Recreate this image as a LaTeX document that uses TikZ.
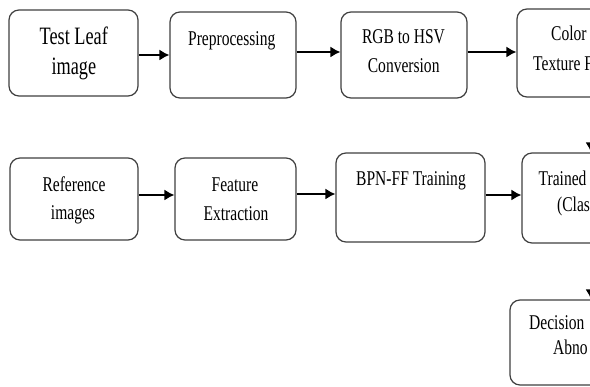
\documentclass[tikz,border=0pt]{standalone}
\usepackage{fontspec}
\setmainfont{Liberation Serif}
\usetikzlibrary{arrows.meta}
\newcommand{\nsz}{\fontsize{21}{30}\selectfont}
\newcommand{\bsz}{\fontsize{25}{33}\selectfont}
\newcommand{\sx}[1]{\scalebox{0.74}[1]{#1}}
\newcommand{\sxb}[1]{\scalebox{0.73}[1]{#1}}
\tikzset{
  box/.style={draw=black!75, line width=1.2pt, rounded corners=10pt, fill=white, inner sep=0pt},
  txt/.style={inner sep=0pt, font=\nsz, text=black},
  btxt/.style={inner sep=0pt, font=\bsz, text=black},
  arr/.style={draw=black, line width=1.5pt, -{Latex[length=10pt,width=11pt]}}
}
\begin{document}
\begin{tikzpicture}[x=1pt,y=-1pt]
\useasboundingbox (0,0) rectangle (590,387);
\fill[white] (0,0) rectangle (590,387);
\clip (0,0) rectangle (590,387);
% boxes
\node[box, minimum width=129pt, minimum height=86pt] (b1) at (73.5,53) {};
\node[box, minimum width=126pt, minimum height=86pt] (b2) at (233,55) {};
\node[box, minimum width=126pt, minimum height=86pt] (b3) at (404,55) {};
\node[box, minimum width=130pt, minimum height=88pt] (b4) at (582,53) {};
\node[box, minimum width=128pt, minimum height=82pt] (b5) at (74,199) {};
\node[box, minimum width=121pt, minimum height=82pt] (b6) at (235.5,199) {};
\node[box, minimum width=149pt, minimum height=89pt] (b7) at (410.5,197.5) {};
\node[box, minimum width=130pt, minimum height=90pt] (b8) at (587,198) {};
\node[box, minimum width=130pt, minimum height=85pt] (b9) at (575,342.5) {};
% texts
\node[btxt, anchor=base] (t1a) at (73.8,45) {\sxb{Test Leaf}};
\node[btxt, anchor=base] (t1b) at (73.8,75) {\sxb{image}};
\node[txt, anchor=base] (t2) at (231.7,46) {\sx{Preprocessing}};
\node[txt, anchor=base] (t3a) at (403.5,43.5) {\sx{RGB to HSV}};
\node[txt, anchor=base] (t3b) at (403.7,73) {\sx{Conversion}};
\node[txt, anchor=base west] (t4a) at (551,41) {\sx{Color}};
\node[txt, anchor=base west] (t4b) at (533,70.5) {\sx{Texture F}};
\node[txt, anchor=base] (t5a) at (74,192) {\sx{Reference}};
\node[txt, anchor=base] (t5b) at (73,220) {\sx{images}};
\node[txt, anchor=base] (t6a) at (235,192) {\sx{Feature}};
\node[txt, anchor=base] (t6b) at (236,221) {\sx{Extraction}};
\node[txt, anchor=base] (t7) at (411,186) {\sx{BPN-FF Training}};
\node[txt, anchor=base west] (t8a) at (538.5,186) {\sx{Trained}};
\node[txt, anchor=base west] (t8b) at (557,212) {\sx{(Clas}};
\node[txt, anchor=base west] (t9a) at (529,330) {\sx{Decision}};
\node[txt, anchor=base west] (t9b) at (553,355) {\sx{Abno}};
% connector guides
\coordinate (r1) at (0,55);
\coordinate (r2) at (0,52);
\coordinate (r4) at (0,195);
\coordinate (r5) at (0,194);
\coordinate (vx) at (591,0);
% arrows
\draw[arr] (b1.east |- r1) -- (b2.west |- r1);
\draw[arr] (b2.east |- r2) -- (b3.west |- r2);
\draw[arr] (b3.east |- r2) -- (b4.west |- r2);
\draw[arr] (b5.east |- r4) -- (b6.west |- r4);
\draw[arr] (b6.east |- r5) -- (b7.west |- r5);
\draw[arr] (b7.east |- r4) -- (b8.west |- r4);
\draw[arr] (b4.south -| vx) -- (b8.north -| vx);
\draw[arr] (b8.south -| vx) -- (b9.north -| vx);
\end{tikzpicture}
\end{document}
